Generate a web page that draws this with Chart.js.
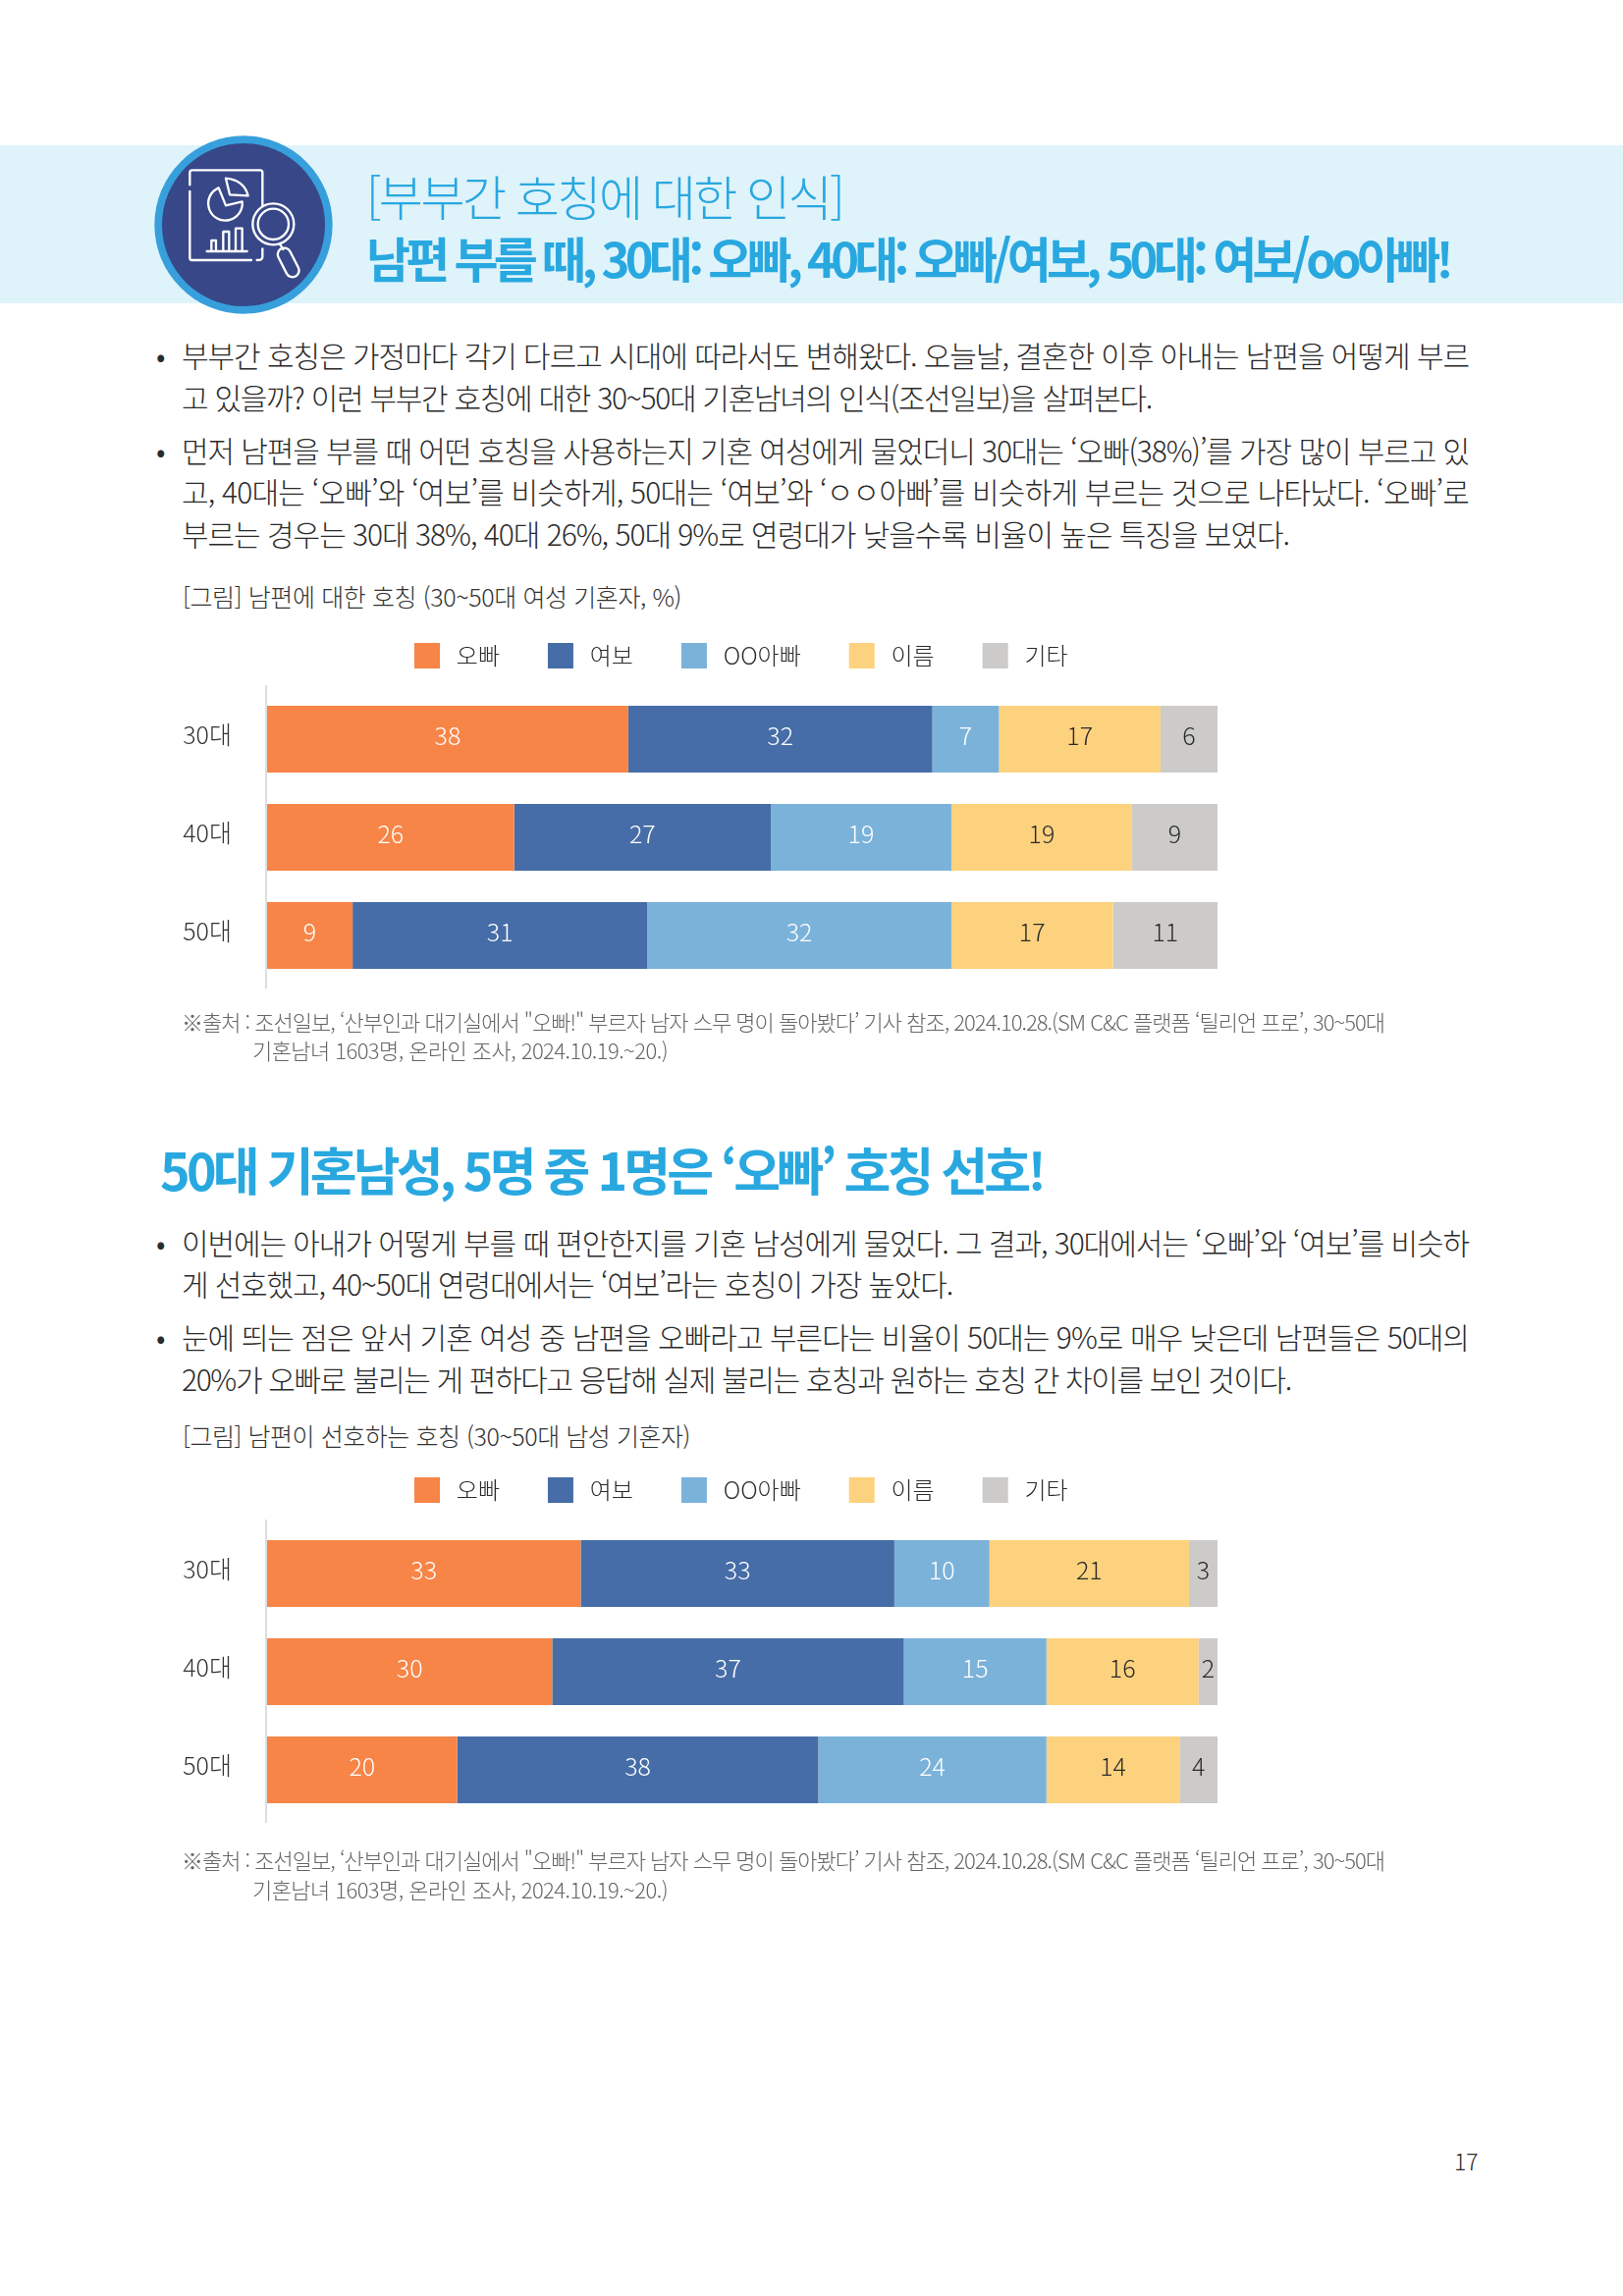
<!DOCTYPE html>
<html lang="ko">
<head>
<meta charset="utf-8">
<title>부부간 호칭에 대한 인식</title>
<script src="https://cdn.jsdelivr.net/npm/chart.js@4/dist/chart.umd.min.js"></script>
<style>
  html, body { margin: 0; padding: 0; background: #fff; }
  #page { position: relative; width: 1653px; height: 2339px; overflow: hidden; font-family: "Noto Sans CJK KR", sans-serif; color: #2b2b2b; }
  #band { position: absolute; left: 0; top: 148px; width: 1653px; height: 161px; background: #dff3fa; }
  #icon { position: absolute; left: 150px; top: 130px; width: 200px; height: 200px; }
  .line { position: absolute; white-space: nowrap; line-height: 1; transform: translateY(-50%); font-weight: 300; }
  .head { color: #29a8e0; }
  .bold { font-weight: 700; }
  .body { font-size: 30px; }
  .cap { font-size: 25px; color: #333; }
  .src { font-size: 22px; color: #666; }
  canvas { position: absolute; left: 0; }
</style>
</head>
<body>
<div id="page">
  <div id="band"></div>
  <svg id="icon" viewBox="0 0 600 600">
    <circle cx="294" cy="297" r="272" fill="#379fdb"/>
    <circle cx="294" cy="297" r="249" fill="#374788"/>
    <g fill="none" stroke="#fff" stroke-width="7" stroke-linecap="round" stroke-linejoin="round">
      <path d="M130 175V137Q130 130 137 130H345Q352 130 352 137V240M352 370V395Q352 405 335 405M318 405H137Q130 405 130 398V195"/>
      <path d="M218 184A52 52 0 1 0 290 226L240 238Z"/>
      <path d="M240 155Q295 160 308 208L252 205Z"/>
      <path d="M182 378H305M196 378V345H210V378M232 378V318H250V378M270 378V308H290V378"/>
      <circle cx="385" cy="295" r="63"/>
      <circle cx="385" cy="295" r="47"/>
      <path d="M405 356L415 372"/>
      <rect x="410" y="365" width="40" height="95" rx="20" transform="rotate(-27 430 410)"/>
    </g>
  </svg>

  <div class="line head" style="left:373px;top:198px;font-size:49px" data-w="485">[부부간 호칭에 대한 인식]</div>
  <div class="line head bold" style="left:373px;top:261px;font-size:49px" data-w="1103">남편 부를 때, 30대: 오빠, 40대: 오빠/여보, 50대: 여보/oo아빠!</div>

  <div class="line body" style="left:159px;top:361px">•</div>
  <div class="line body" style="left:185px;top:361px" data-w="1311">부부간 호칭은 가정마다 각기 다르고 시대에 따라서도 변해왔다. 오늘날, 결혼한 이후 아내는 남편을 어떻게 부르</div>
  <div class="line body" style="left:185px;top:404px" data-w="988">고 있을까? 이런 부부간 호칭에 대한 30~50대 기혼남녀의 인식(조선일보)을 살펴본다.</div>
  <div class="line body" style="left:159px;top:458px">•</div>
  <div class="line body" style="left:185px;top:458px" data-w="1311">먼저 남편을 부를 때 어떤 호칭을 사용하는지 기혼 여성에게 물었더니 30대는 ‘오빠(38%)’를 가장 많이 부르고 있</div>
  <div class="line body" style="left:185px;top:500px" data-w="1311">고, 40대는 ‘오빠’와 ‘여보’를 비슷하게, 50대는 ‘여보’와 ‘ㅇㅇ아빠’를 비슷하게 부르는 것으로 나타났다. ‘오빠’로</div>
  <div class="line body" style="left:185px;top:543px" data-w="1128">부르는 경우는 30대 38%, 40대 26%, 50대 9%로 연령대가 낮을수록 비율이 높은 특징을 보였다.</div>

  <div class="line cap" style="left:186px;top:607px" data-w="508">[그림] 남편에 대한 호칭 (30~50대 여성 기혼자, %)</div>
  <canvas id="chartWives" width="1506" height="440" style="top:606px"></canvas>
  <div class="line src" style="left:185px;top:1040px" data-w="1225">※출처 : 조선일보, ‘산부인과 대기실에서 "오빠!" 부르자 남자 스무 명이 돌아봤다’ 기사 참조, 2024.10.28.(SM C&amp;C 플랫폼 ‘틸리언 프로’, 30~50대</div>
  <div class="line src" style="left:257px;top:1069px" data-w="423">기혼남녀 1603명, 온라인 조사, 2024.10.19.~20.)</div>

  <div class="line head bold" style="left:163px;top:1191px;font-size:52px" data-w="899">50대 기혼남성, 5명 중 1명은 ‘오빠’ 호칭 선호!</div>

  <div class="line body" style="left:159px;top:1265px">•</div>
  <div class="line body" style="left:185px;top:1265px" data-w="1311">이번에는 아내가 어떻게 부를 때 편안한지를 기혼 남성에게 물었다. 그 결과, 30대에서는 ‘오빠’와 ‘여보’를 비슷하</div>
  <div class="line body" style="left:185px;top:1307px" data-w="785">게 선호했고, 40~50대 연령대에서는 ‘여보’라는 호칭이 가장 높았다.</div>
  <div class="line body" style="left:159px;top:1361px">•</div>
  <div class="line body" style="left:185px;top:1361px" data-w="1311">눈에 띄는 점은 앞서 기혼 여성 중 남편을 오빠라고 부른다는 비율이 50대는 9%로 매우 낮은데 남편들은 50대의</div>
  <div class="line body" style="left:185px;top:1404px" data-w="1130">20%가 오빠로 불리는 게 편하다고 응답해 실제 불리는 호칭과 원하는 호칭 간 차이를 보인 것이다.</div>

  <div class="line cap" style="left:186px;top:1462px" data-w="517">[그림] 남편이 선호하는 호칭 (30~50대 남성 기혼자)</div>
  <canvas id="chartHusbands" width="1506" height="440" style="top:1456px"></canvas>
  <div class="line src" style="left:185px;top:1894px" data-w="1225">※출처 : 조선일보, ‘산부인과 대기실에서 "오빠!" 부르자 남자 스무 명이 돌아봤다’ 기사 참조, 2024.10.28.(SM C&amp;C 플랫폼 ‘틸리언 프로’, 30~50대</div>
  <div class="line src" style="left:257px;top:1924px" data-w="423">기혼남녀 1603명, 온라인 조사, 2024.10.19.~20.)</div>

  <div class="line" style="left:1481px;top:2201px;font-size:23px">17</div>
</div>

<script>
// Données
const categories = ['30대', '40대', '50대'];
const seriesNames = ['오빠', '여보', 'OO아빠', '이름', '기타'];
const seriesColors = ['#f68547', '#466da7', '#7bb2d9', '#fdd27e', '#cccbca'];
const labelColors = ['#ffffff', '#ffffff', '#ffffff', '#2b2b2b', '#2b2b2b'];

const wivesOppa = [38, 26, 9];
const wivesYeobo = [32, 27, 31];
const wivesDad = [7, 19, 32];
const wivesName = [17, 19, 17];
const wivesOther = [6, 9, 11];

const husbandsOppa = [33, 30, 20];
const husbandsYeobo = [33, 37, 38];
const husbandsDad = [10, 15, 24];
const husbandsName = [21, 16, 14];
const husbandsOther = [3, 2, 4];

const FONT = '"Noto Sans CJK KR", sans-serif';

// Ajuster l'espacement des lettres pour retrouver la largeur de chaque ligne
document.querySelectorAll('.line[data-w]').forEach(el => {
    const target = parseFloat(el.dataset.w);
    const natural = el.getBoundingClientRect().width;
    el.style.letterSpacing = ((target - natural) / el.textContent.length) + 'px';
});

// Valeurs écrites dans les segments
const valueLabels = {
    id: 'valueLabels',
    afterDatasetsDraw(chart) {
        const ctx = chart.ctx;
        ctx.save();
        ctx.font = '300 25px ' + FONT;
        ctx.textAlign = 'center';
        ctx.textBaseline = 'middle';
        chart.data.datasets.forEach((dataset, i) => {
            ctx.fillStyle = labelColors[i];
            chart.getDatasetMeta(i).data.forEach((bar, j) => {
                const center = bar.getCenterPoint();
                ctx.fillText(dataset.data[j], center.x, center.y - 4);
            });
        });
        ctx.restore();
    }
};

// Ligne verticale de l'axe, un peu plus longue que la zone du graphique
const axisLine = {
    id: 'axisLine',
    afterDraw(chart) {
        const { ctx, chartArea } = chart;
        ctx.save();
        ctx.strokeStyle = '#bdbdbd';
        ctx.lineWidth = 1;
        ctx.beginPath();
        ctx.moveTo(chartArea.left - 1, chartArea.top - 5);
        ctx.lineTo(chartArea.left - 1, chartArea.bottom + 4);
        ctx.stroke();
        ctx.restore();
    }
};

// La légende commence à droite de la marge de l'axe
const legendStart = {
    id: 'legendStart',
    afterLayout(chart) {
        chart.legend.left = 373;
    }
};

function drawChart(canvasId, rows) {
    new Chart(document.getElementById(canvasId), {
        type: 'bar',
        data: {
            labels: categories,
            datasets: seriesNames.map((name, i) => ({
                label: name,
                data: rows[i],
                backgroundColor: seriesColors[i],
                borderWidth: 0,
                categoryPercentage: 1,
                barPercentage: 0.68
            }))
        },
        options: {
            indexAxis: 'y',
            responsive: false,
            animation: false,
            layout: { padding: { left: 0, right: 266, top: 0, bottom: 7 } },
            plugins: {
                tooltip: { enabled: false },
                legend: {
                    position: 'top',
                    align: 'start',
                    labels: {
                        boxWidth: 26,
                        boxHeight: 26,
                        padding: 49,
                        color: '#2b2b2b',
                        font: { family: FONT, size: 24, weight: '300' },
                        generateLabels: chart => Chart.defaults.plugins.legend.labels.generateLabels(chart)
                            .map(item => ({ ...item, text: '\u2009' + item.text, lineWidth: 0 }))
                    }
                }
            },
            scales: {
                x: {
                    position: 'top',
                    stacked: true,
                    min: 0,
                    max: 100,
                    grid: { display: false },
                    border: { display: false },
                    ticks: { display: false },
                    afterFit: scale => { scale.height = 12; }
                },
                y: {
                    stacked: true,
                    grid: { display: false },
                    border: { display: false },
                    ticks: {
                        padding: 28,
                        labelOffset: -5,
                        color: '#333',
                        font: { family: FONT, size: 25, weight: '300' }
                    },
                    afterFit: scale => { scale.width = 272; }
                }
            }
        },
        plugins: [valueLabels, axisLine, legendStart]
    });
}

drawChart('chartWives', [wivesOppa, wivesYeobo, wivesDad, wivesName, wivesOther]);
drawChart('chartHusbands', [husbandsOppa, husbandsYeobo, husbandsDad, husbandsName, husbandsOther]);
</script>
</body>
</html>
